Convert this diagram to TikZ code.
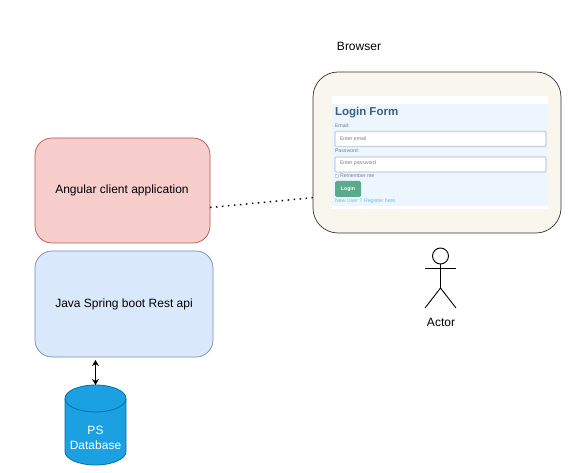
\documentclass[tikz,border=0pt]{standalone}
\usepackage{fontspec}
\setmainfont{Liberation Sans}
\usetikzlibrary{arrows.meta}

\definecolor{clientfill}{HTML}{F8CECC}
\definecolor{clientline}{HTML}{B85450}
\definecolor{apifill}{HTML}{DAE8FC}
\definecolor{apiline}{HTML}{6C8EBF}
\definecolor{dbfill}{HTML}{1BA1E2}
\definecolor{dbline}{HTML}{006EAF}
\definecolor{browserfill}{HTML}{F9F6EE}
\definecolor{formfill}{HTML}{EDF6FE}
\definecolor{fieldline}{HTML}{C9D3DF}
\definecolor{btnfill}{HTML}{5BAA8B}
\definecolor{formtitle}{HTML}{3F5F7F}
\definecolor{formtext}{HTML}{6F7F8F}
\definecolor{formlink}{HTML}{66BDEB}

\begin{document}
\begin{tikzpicture}[
    x=1pt, y=-1pt,
    every node/.style={inner sep=0pt, outer sep=0pt, font=\fontsize{12}{14}\selectfont},
    appbox/.style={draw, rounded corners=17pt, line width=0.7pt, anchor=north west},
    field/.style={draw=fieldline, fill=white, line width=1.2pt, rounded corners=1pt, anchor=north west,
        minimum width=211pt, minimum height=15pt},
    tiny/.style={anchor=west, text=formtext, font=\fontsize{5.2}{6}\selectfont},
    limb/.style={draw, line width=0.9pt},
]
\useasboundingbox (0,0) rectangle (579,473);

% Browser
\node (browserlabel) at (359,46) {Browser};
\node[appbox, fill=browserfill, draw=black!80, rounded corners=25pt, minimum width=248pt, minimum height=161pt] (browser) at (313,72) {};

% Login form
\node[fill=white, anchor=north west, minimum width=216pt, minimum height=113pt] (formback) at (332,96) {};
\node[fill=formfill, anchor=north west, minimum width=216pt, minimum height=102pt] (form) at (332,104) {};
\node[anchor=west, text=formtitle, font=\fontsize{11.5}{13}\bfseries\selectfont] (formhead) at (335,113) {Login Form};
\node[tiny] (emaillabel) at (335,126) {Email:};
\node[field] (emailfield) at (335,131.5) {};
\node[tiny] (emailhint) at (340,138.5) {Enter email};
\node[tiny] (passlabel) at (335,151) {Password:};
\node[field] (passfield) at (335,157) {};
\node[tiny] (passhint) at (340,163.5) {Enter password};
\node[draw=fieldline, fill=white, minimum size=3pt, line width=0.3pt] (rememberbox) at (337,176) {};
\node[tiny] (rememberlabel) at (340,176) {Remember me};
\node[fill=btnfill, rounded corners=1.5pt, anchor=north west, minimum width=26pt, minimum height=16pt,
    text=white, font=\fontsize{5.2}{6}\bfseries\selectfont] (loginbtn) at (335,181) {Login};
\node[tiny, text=formlink] (registerlink) at (335,201.5) {New User ? Register here};

% Boxes on the left
\node[appbox, fill=clientfill, draw=clientline, minimum width=175pt, minimum height=105pt] (client) at (35,138) {};
\node (clientlabel) at (122,190.5) {Angular client application};
\node[appbox, fill=apifill, draw=apiline, minimum width=178pt, minimum height=106pt] (api) at (35,251) {};
\node (apilabel) at (124,304) {Java Spring boot Rest api};

% Database
\node[minimum width=61pt, minimum height=80pt] (db) at (95.5,425) {};
\draw[draw=dbline, fill=dbfill, line width=0.8pt]
    (db.west |- 0,398.5) -- (db.west |- 0,451.5)
    .. controls (65,459) and (78.7,465) .. (db.south)
    .. controls (112.3,465) and (126,459) .. (db.east |- 0,451.5)
    -- (db.east |- 0,398.5)
    .. controls (126,391) and (112.3,385) .. (db.north)
    .. controls (78.7,385) and (65,391) .. (db.west |- 0,398.5) -- cycle;
\draw[draw=dbline, line width=0.8pt]
    (db.west |- 0,398.5) .. controls (65,406) and (78.7,412) .. (95.5,412)
    .. controls (112.3,412) and (126,406) .. (db.east |- 0,398.5);
\node[text=white, align=center, font=\fontsize{12}{15}\selectfont] (dblabel) at (95.5,438) {PS\\Database};

% Connectors
\draw[line width=1.5pt, dash pattern=on 1.5pt off 4.5pt] (client.-11.3) -- (browser.200.96);
\draw[{Stealth[length=6pt,width=7pt]}-{Stealth[length=6pt,width=7pt]}, line width=1.1pt, shorten <=3pt] (db.north |- api.south) -- (db.north);

% Actor
\node[draw, circle, minimum size=16pt, line width=0.9pt] (head) at (440.5,256) {};
\coordinate (hip) at (440.5,288);
\coordinate (armleft) at (425,268);
\coordinate (armright) at (456,268);
\coordinate (footleft) at (425,308);
\coordinate (footright) at (456,308);
\draw[limb] (head.south) -- (hip);
\draw[limb] (armleft) -- (armright);
\draw[limb] (footleft) -- (hip) -- (footright);
\node (actorlabel) at (441,322) {Actor};

\end{tikzpicture}
\end{document}
